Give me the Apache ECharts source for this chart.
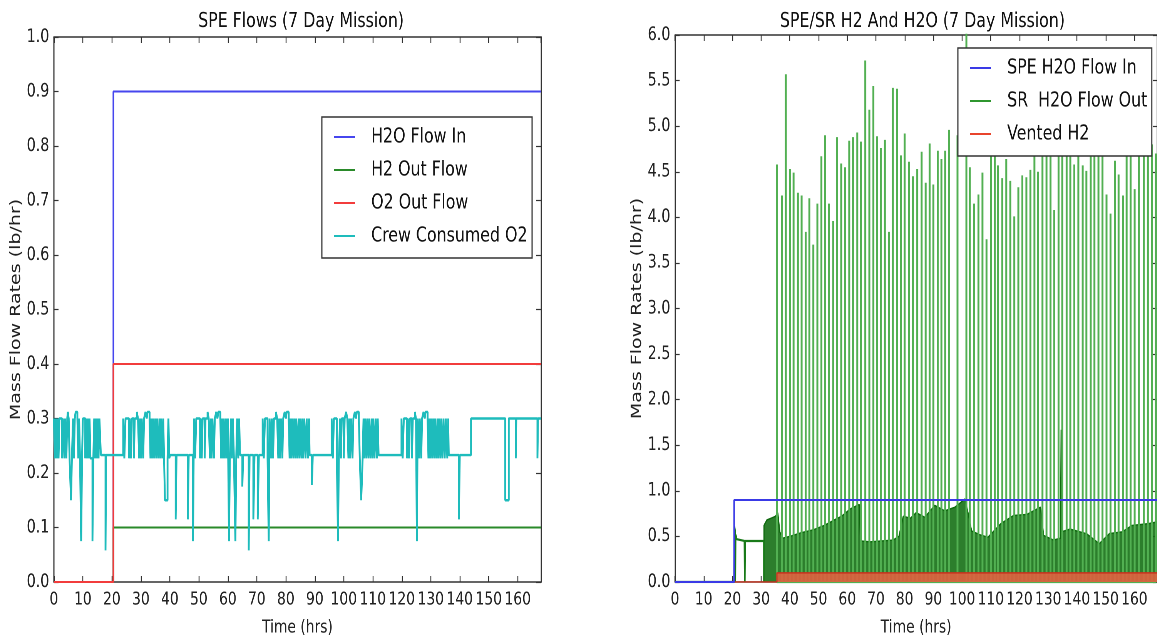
<!DOCTYPE html>
<html>
<head>
<meta charset="utf-8">
<title>SPE Flows / SPE-SR H2 and H2O</title>
<script src="https://cdn.jsdelivr.net/npm/echarts@6/dist/echarts.min.js"></script>
<style>
  html, body { margin: 0; padding: 0; background: #fff; overflow: hidden; }
  /* the source figure is squeezed sideways; draw wide, then squeeze the same way */
  #chart { width: 1503px; height: 642px; transform: scaleX(0.77); transform-origin: 0 0; }
</style>
</head>
<body>
<div id="chart"></div>
<script>
// ---- left panel: SPE Flows (7 Day Mission) ----
var missionEnd = 168;
var h2oFlowIn = [[0, 0], [20.5, 0], [20.5, 0.9], [168, 0.9]];
var h2OutFlow = [[0, 0], [20.5, 0], [20.5, 0.1], [168, 0.1]];
var o2OutFlow = [[0, 0], [20.5, 0], [20.5, 0.4], [168, 0.4]];
// crew O2 use, step values [hour, lb/hr] held until the next entry
var crewConsumedO2 = [
  [0, 0.3], [0.35, 0.227], [0.7, 0.3], [1.0, 0.227], [1.3, 0.3], [1.6, 0.227], [1.9, 0.3], [2.8, 0.227],
  [3.1, 0.3], [3.6, 0.227], [3.9, 0.3], [4.3, 0.227], [4.6, 0.3], [4.8, 0.312], [5.1, 0.3], [5.4, 0.227],
  [5.9, 0.15], [6.2, 0.227], [6.6, 0.3], [6.9, 0.227], [7.2, 0.3], [7.5, 0.312], [8.1, 0.3], [8.4, 0.227],
  [8.7, 0.3], [9.0, 0.227], [9.4, 0.075], [9.7, 0.227], [10.0, 0.3], [10.8, 0.227], [11.1, 0.3],
  [11.4, 0.227], [11.7, 0.3], [12.0, 0.227], [12.3, 0.3], [12.6, 0.227], [13.3, 0.075], [13.6, 0.227],
  [13.9, 0.3], [14.2, 0.227], [14.5, 0.3], [14.8, 0.227], [15.1, 0.3], [15.4, 0.227], [15.7, 0.3],
  [16.2, 0.233], [17.8, 0.058], [18.0, 0.233],
  [23.9, 0.3], [24.3, 0.227], [24.7, 0.3], [25.9, 0.227], [26.2, 0.3], [26.6, 0.227], [26.9, 0.3],
  [27.6, 0.227], [27.9, 0.3], [28.6, 0.312], [29.0, 0.3], [29.4, 0.227], [29.7, 0.3], [30.0, 0.227],
  [30.3, 0.3], [30.8, 0.227], [31.1, 0.3], [31.6, 0.312], [32.0, 0.3], [32.3, 0.312], [33.0, 0.3],
  [33.3, 0.227], [33.6, 0.3], [33.9, 0.227], [34.2, 0.3], [34.6, 0.227], [34.9, 0.3], [35.3, 0.227],
  [35.6, 0.3], [36.0, 0.227], [36.4, 0.3], [36.7, 0.227], [37.0, 0.3], [37.4, 0.227], [37.7, 0.3],
  [38.0, 0.227], [38.3, 0.15], [39.2, 0.227], [39.5, 0.3], [39.8, 0.227], [40.1, 0.233],
  [42.0, 0.115], [42.3, 0.233], [46.2, 0.115], [46.5, 0.233],
  [48.0, 0.075], [48.3, 0.3], [48.7, 0.227], [49.1, 0.3], [50.4, 0.227], [50.7, 0.3], [51.0, 0.227],
  [51.3, 0.3], [52.0, 0.227], [52.3, 0.3], [53.0, 0.312], [53.4, 0.3], [53.8, 0.227], [54.1, 0.3],
  [54.4, 0.227], [54.7, 0.3], [55.2, 0.227], [55.5, 0.3], [56.0, 0.312], [56.4, 0.3], [56.7, 0.312],
  [57.4, 0.3], [57.7, 0.227], [58.0, 0.3], [58.3, 0.227], [58.6, 0.3], [59.0, 0.227], [59.3, 0.3],
  [59.7, 0.227], [60.0, 0.3], [60.4, 0.075], [60.7, 0.227], [61.1, 0.3], [61.4, 0.227], [61.7, 0.3],
  [62.1, 0.227], [62.6, 0.075], [62.9, 0.227], [63.2, 0.3], [63.6, 0.227], [63.9, 0.3], [64.2, 0.233],
  [65.0, 0.175], [65.3, 0.233], [67.2, 0.058], [67.5, 0.233], [68.8, 0.115], [69.2, 0.233],
  [70.3, 0.115], [70.7, 0.233],
  [72.0, 0.3], [72.4, 0.227], [72.8, 0.3], [73.7, 0.227], [74.1, 0.075], [74.4, 0.3], [74.9, 0.227],
  [75.2, 0.3], [75.6, 0.227], [75.9, 0.3], [76.6, 0.312], [77.0, 0.3], [77.4, 0.227], [77.7, 0.3],
  [78.0, 0.227], [78.3, 0.3], [78.8, 0.227], [79.1, 0.3], [79.6, 0.312], [80.0, 0.3], [80.3, 0.312],
  [81.0, 0.3], [81.3, 0.227], [81.6, 0.3], [81.9, 0.227], [82.2, 0.3], [82.6, 0.227], [82.9, 0.3],
  [83.3, 0.227], [83.6, 0.3], [84.0, 0.227], [84.4, 0.3], [84.7, 0.227], [85.0, 0.3], [85.4, 0.227],
  [85.7, 0.3], [86.0, 0.227], [86.4, 0.3], [86.8, 0.227], [87.2, 0.3], [87.6, 0.227], [88.0, 0.3],
  [88.2, 0.233], [89.0, 0.178], [89.3, 0.233],
  [95.8, 0.3], [96.2, 0.227], [96.6, 0.3], [97.6, 0.227], [98.0, 0.075], [98.3, 0.227], [98.7, 0.3],
  [99.0, 0.227], [99.3, 0.3], [100.0, 0.227], [100.3, 0.3], [100.8, 0.312], [101.2, 0.3], [101.6, 0.227],
  [101.9, 0.3], [102.2, 0.227], [102.5, 0.3], [103.0, 0.227], [103.3, 0.3], [103.8, 0.312], [104.2, 0.3],
  [104.5, 0.312], [105.2, 0.3], [105.5, 0.227], [106.0, 0.15], [106.5, 0.227], [106.8, 0.3],
  [107.1, 0.227], [107.4, 0.3], [107.8, 0.227], [108.1, 0.3], [108.5, 0.227], [108.8, 0.3],
  [109.2, 0.227], [109.6, 0.3], [109.9, 0.227], [110.2, 0.3], [110.6, 0.227], [111.0, 0.3],
  [111.4, 0.227], [111.7, 0.3], [112.0, 0.233],
  [119.9, 0.3], [120.3, 0.227], [120.7, 0.3], [121.8, 0.227], [122.1, 0.3], [122.5, 0.227], [122.8, 0.3],
  [123.5, 0.227], [123.8, 0.3], [124.5, 0.312], [124.9, 0.3], [125.2, 0.075], [125.5, 0.3], [125.9, 0.227],
  [126.2, 0.3], [126.7, 0.227], [127.0, 0.3], [127.5, 0.312], [127.9, 0.3], [128.2, 0.312], [128.9, 0.3],
  [129.2, 0.227], [129.5, 0.3], [129.8, 0.227], [130.1, 0.3], [130.5, 0.227], [130.8, 0.3],
  [131.2, 0.227], [131.5, 0.3], [131.9, 0.227], [132.3, 0.3], [132.6, 0.227], [132.9, 0.3],
  [133.3, 0.227], [133.6, 0.3], [134.0, 0.227], [134.4, 0.3], [134.8, 0.227], [135.2, 0.3],
  [135.7, 0.227], [136.0, 0.3], [136.2, 0.233], [139.7, 0.115], [140.0, 0.233],
  [143.9, 0.3], [155.7, 0.15], [156.9, 0.3], [159.3, 0.227], [159.5, 0.3], [166.8, 0.227], [167.0, 0.3],
  [168, 0.3]
];

// ---- right panel: SPE/SR H2 And H2O (7 Day Mission) ----
var speH2oFlowIn = [[0, 0], [20.6, 0], [20.6, 0.9], [168, 0.9]];
// SR water output before the regular cycling starts
var srH2oEarly = [
  [0, 0], [20.6, 0], [20.7, 0.61], [20.9, 0.56], [21.0, 0], [21.1, 0.52], [21.5, 0.47], [22.0, 0.45],
  [24.2, 0.45], [24.3, 0], [24.4, 0.45], [31.0, 0.45], [31.0, 0]
];
// top of the dense, fast-cycling part of the SR water output
var srH2oEnvelope = [
  [31.0, 0], [31.0, 0.62], [32.0, 0.68], [33.5, 0.70], [35.0, 0.72], [35.8, 0.76], [36.5, 0.55],
  [37.5, 0.48], [40, 0.50], [44, 0.54], [48, 0.57], [52, 0.62], [55.5, 0.68], [58, 0.72], [61, 0.80],
  [64.2, 0.85], [64.6, 0.45], [68, 0.44], [72, 0.45], [76, 0.46], [78, 0.50], [79.5, 0.72], [82, 0.70],
  [84, 0.76], [87, 0.71], [90.5, 0.84], [94, 0.78], [97.5, 0.82], [101, 0.91], [102.2, 0.74],
  [103.3, 0.56], [106, 0.52], [109, 0.49], [113.5, 0.64], [118, 0.73], [122.5, 0.74], [127.3, 0.82],
  [128.4, 0.51], [131.8, 0.46], [134.3, 0.48], [134.5, 1.67], [134.7, 0.55], [137.6, 0.58],
  [143.3, 0.53], [147.8, 0.42], [151.3, 0.53], [155.8, 0.55], [159.2, 0.62], [165, 0.64], [168, 0.66],
  [168, 0]
];
// SR water dump spikes: hour and peak lb/hr
var spikeHours = [
  35.5, 37.2, 38.6, 40.0, 41.3, 42.8, 44.1, 45.5, 46.8, 48.2, 49.6, 51.0, 52.3, 53.6, 55.1, 56.5,
  57.9, 59.2, 60.7, 62.0, 63.5, 64.8, 66.3, 67.7, 69.1, 70.4, 71.7, 73.1, 74.5, 75.9, 77.4, 78.7,
  80.0, 81.5, 82.9, 84.4, 85.9, 87.3, 88.7, 90.0, 91.5, 92.8, 94.1, 95.5, 98.4, 101.5, 102.7, 104.2,
  105.7, 107.1, 108.5, 110.0, 111.4, 112.5, 114.0, 115.4, 116.8, 118.2, 119.6, 121.0, 122.4, 123.8,
  125.2, 126.5, 128.0, 129.4, 130.8, 132.1, 133.6, 134.9, 136.4, 137.7, 139.1, 140.5, 142.0, 143.3,
  144.8, 146.1, 147.5, 148.9, 150.3, 151.7, 153.2, 154.5, 156.0, 157.3, 158.7, 160.1, 161.6, 163.3,
  164.7, 166.1, 167.5
];
var spikePeaks = [
  4.58, 4.24, 5.57, 4.53, 4.49, 4.27, 4.24, 3.84, 4.21, 3.70, 4.15, 4.67, 4.90, 4.15, 3.96, 4.88,
  4.59, 4.55, 4.84, 4.88, 4.93, 4.83, 5.72, 5.18, 5.44, 4.89, 4.76, 4.85, 3.84, 5.42, 5.41, 4.68,
  4.92, 4.61, 4.45, 4.53, 4.72, 4.38, 4.81, 4.36, 4.73, 4.64, 4.73, 4.96, 4.90, 6.40, 4.55, 4.15,
  4.25, 4.49, 3.76, 4.71, 4.85, 4.57, 4.43, 4.64, 4.40, 4.01, 4.33, 4.46, 4.44, 4.52,
  4.85, 4.50, 4.95, 4.80, 5.05, 4.08, 4.90, 4.67, 4.67, 4.75, 4.58, 4.90, 4.57, 4.51,
  4.85, 5.00, 4.80, 4.95, 4.25, 4.04, 4.62, 4.47, 4.24, 4.90, 5.10, 4.31, 4.85, 4.95,
  5.27, 4.80, 4.70
];
var ventedH2 = [[0, 0], [35.5, 0], [35.5, 0.1], [168, 0.1]];

var leftTicks = { min: 0, max: 1, interval: 0.1 };
var rightTicks = { min: 0, max: 6, interval: 0.5 };

var FONT = "'DejaVu Sans', 'Liberation Sans', sans-serif";
var FRAME = '#333';

function frameAxis(extra) {
  var axis = {
    type: 'value',
    axisLine: { show: true, onZero: false, lineStyle: { color: FRAME, width: 1.5 } },
    axisTick: { show: true, inside: true, length: 6, lineStyle: { color: FRAME, width: 1.2 } },
    axisLabel: { show: false },
    splitLine: { show: false }
  };
  return Object.assign(axis, extra);
}

function timeAxis(gridIndex, position) {
  var bottom = position === 'bottom';
  return frameAxis({
    gridIndex: gridIndex, position: position, min: 0, max: missionEnd, interval: 10,
    name: bottom ? 'Time (hrs)' : '',
    nameLocation: 'middle', nameGap: 37,
    nameTextStyle: { fontFamily: FONT, fontSize: 18, color: '#222' },
    axisLabel: {
      show: bottom, margin: 9, showMaxLabel: false,
      fontFamily: FONT, fontSize: 18, color: '#222'
    }
  });
}

function rateAxis(gridIndex, position, ticks) {
  var left = position === 'left';
  return frameAxis({
    gridIndex: gridIndex, position: position,
    min: ticks.min, max: ticks.max, interval: ticks.interval,
    name: left ? 'Mass Flow Rates (lb/hr)' : '',
    nameLocation: 'middle', nameGap: 33, nameRotate: 90,
    nameTextStyle: { fontFamily: FONT, fontSize: 19, color: '#222' },
    axisLabel: {
      show: left, margin: 6, fontFamily: FONT, fontSize: 18.5, color: '#222',
      formatter: function(v) { return v.toFixed(1); }
    }
  });
}

function line(name, data, color, axis, extra) {
  var s = {
    type: 'line', name: name, data: data,
    xAxisIndex: axis, yAxisIndex: axis,
    showSymbol: false, symbol: 'none', silent: true,
    lineStyle: { color: color, width: 2 },
    itemStyle: { color: color }
  };
  return Object.assign(s, extra || {});
}

function legendBox(left, top, names) {
  return {
    left: left, top: top, orient: 'vertical',
    data: names, icon: 'rect', itemWidth: 27, itemHeight: 2, itemGap: 11,
    padding: [9, 6, 11, 16],
    borderColor: FRAME, borderWidth: 1.5, backgroundColor: '#fff',
    textStyle: { fontFamily: FONT, fontSize: 20.5, color: '#111', lineHeight: 22, padding: [0, 0, 0, 16] },
    selectedMode: false
  };
}

var spikeData = [];
spikeHours.forEach(function(t, i) {
  spikeData.push([t, 0], [t, spikePeaks[i]], [t, 0]);
});

var chart = echarts.init(document.getElementById('chart'), null, { renderer: 'canvas', devicePixelRatio: 2 });
chart.setOption({
  animation: false,
  backgroundColor: '#fff',
  title: [
    { text: 'SPE Flows (7 Day Mission)', left: 386, top: 6, textAlign: 'center',
      textStyle: { fontFamily: FONT, fontSize: 20.5, fontWeight: 'normal', color: '#111' } },
    { text: 'SPE/SR H2 And H2O (7 Day Mission)', left: 1193, top: 6, textAlign: 'center',
      textStyle: { fontFamily: FONT, fontSize: 20.5, fontWeight: 'normal', color: '#111' } }
  ],
  legend: [
    legendBox(418, 117, ['H2O Flow In', 'H2 Out Flow', 'O2 Out Flow', 'Crew Consumed O2']),
    legendBox(1244, 48, ['SPE H2O Flow In', 'SR  H2O Flow Out', 'Vented H2'])
  ],
  grid: [
    { left: 70, top: 37, width: 632.5, height: 551 },
    { left: 876.6, top: 35, width: 637.7, height: 550 }
  ],
  xAxis: [timeAxis(0, 'bottom'), timeAxis(0, 'top'), timeAxis(1, 'bottom'), timeAxis(1, 'top')],
  yAxis: [
    rateAxis(0, 'left', leftTicks), rateAxis(0, 'right', leftTicks),
    rateAxis(1, 'left', rightTicks), rateAxis(1, 'right', rightTicks)
  ],
  series: [
    line('H2O Flow In', h2oFlowIn, '#4646ee', 0, { z: 2 }),
    line('H2 Out Flow', h2OutFlow, '#2a8a2a', 0, { z: 3 }),
    line('O2 Out Flow', o2OutFlow, '#f23c3c', 0, { z: 4 }),
    line('Crew Consumed O2', crewConsumedO2, '#1ebcbc', 0, { step: 'end', z: 5, lineStyle: { color: '#1ebcbc', width: 2.4 } }),

    line('SR  H2O Flow Out', spikeData, '#2f962f', 2, { z: 3, lineStyle: { color: '#52b052', width: 2.5 } }),
    line('SR  H2O Flow Out', srH2oEnvelope, '#2f962f', 2, {
      z: 2, lineStyle: { color: '#0f6a0f', width: 1.5 },
      areaStyle: { color: '#157015', opacity: 0.9 }
    }),
    line('SR  H2O Flow Out', srH2oEarly, '#197a19', 2, { z: 3, lineStyle: { color: '#197a19', width: 2.2 } }),
    line('Vented H2', ventedH2, '#e8442c', 2, {
      z: 4, lineStyle: { color: '#c8321e', width: 1.6 },
      areaStyle: { color: '#e0603f', opacity: 0.9 }
    }),
    line('SPE H2O Flow In', speH2oFlowIn, '#3a3ae6', 2, { z: 6 })
  ]
});
</script>
</body>
</html>
